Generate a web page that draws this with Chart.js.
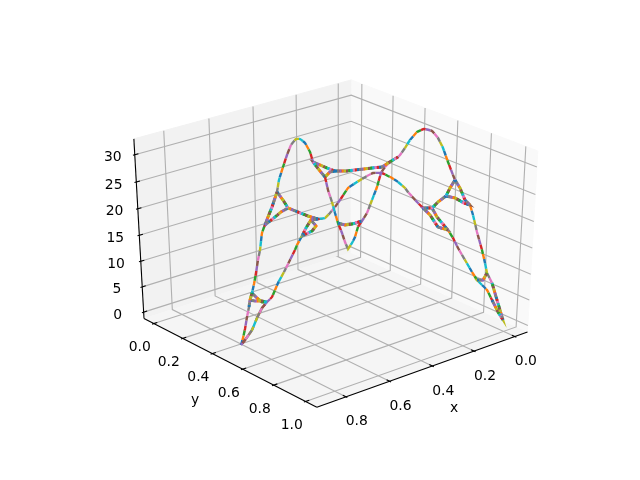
<!DOCTYPE html>
<html>
<head>
<meta charset="utf-8">
<style>
html, body { margin: 0; padding: 0; background: #fff; }
canvas { display: block; }
</style>
<script src="https://cdn.jsdelivr.net/npm/chart.js@4/dist/chart.umd.min.js"></script>
</head>
<body>
<canvas id="plot" width="640" height="480"></canvas>
<script>
const xTicks = [0.0, 0.2, 0.4, 0.6, 0.8];
const yTicks = [0.0, 0.2, 0.4, 0.6, 0.8, 1.0];
const zTicks = [0, 5, 10, 15, 20, 25, 30];
const xLabels = ["0.0", "0.2", "0.4", "0.6", "0.8"];
const yLabels = ["0.0", "0.2", "0.4", "0.6", "0.8", "1.0"];
const zLabels = ["0", "5", "10", "15", "20", "25", "30"];
const xLim = [-0.043, 0.91];
const yLim = [-0.046, 1.046];
const zLim = [-0.6, 32.2];
const lineColors = ["#1f77b4", "#ff7f0e", "#2ca02c", "#d62728", "#9467bd", "#8c564b", "#e377c2", "#7f7f7f", "#bcbd22", "#17becf"];

// pieces of the curve as they read on the view plane of the 3d axes
const tipLeftUp = [[241,345],[243,338],[245,329],[247,317],[249,307],[250,300],[252,293]];
const tipLeftCross = [[252,293],[257,298],[262,302],[267,302]];
const tipLeftInner = [[250,300],[255,301],[262,301],[267,302]];
const tipLeftBack = [[267,302],[262,308],[257,318],[252,330],[245,340],[241,345]];
const leftRise = [[252,293],[254,284],[256,273],[258,260],[260,250],[262,233],[265,225]];
const leftTriA = [[265,225],[268,217],[272,207],[275,198],[277,192]];
const leftTriB = [[277,192],[283,200],[288,208]];
const leftTriC = [[288,208],[281,212],[275,217],[270,221],[265,225]];
const peakLeft = [[277,192],[279,180],[283,167],[287,155],[291,145],[296,139],[300,139],[305,143],[310,152],[313,162]];
const topTriA = [[313,162],[320,165],[327,168],[335,171]];
const topTriB = [[335,171],[330,172],[325,177]];
const topTriC = [[325,177],[320,171],[313,162]];
const downToDip = [[325,177],[328,190],[332,202],[335,213],[338,223]];
const dipBar = [[338,223],[345,225],[352,224],[362,221]];
const dipLeft = [[338,223],[342,233],[345,242],[348,249]];
const dipRight = [[348,249],[352,243],[355,237],[358,227],[362,221]];
const riseToKnot = [[362,221],[367,213],[372,200],[377,187],[381,173],[385,167],[390,162],[398,157]];
const bridge = [[335,171],[347,171],[355,170],[364,169],[372,168],[382,167],[388,163],[398,157]];
const peakRight = [[398,157],[400,155],[405,148],[410,140],[417,132],[424,129],[432,131],[438,138],[443,148],[448,162],[453,175],[455,180]];
const rightTriA = [[455,180],[450,188],[446,196]];
const rightTriB = [[446,196],[455,198],[464,203],[470,205]];
const rightTriC = [[455,180],[460,188],[465,200],[470,205]];
const knee = [[446,196],[438,202],[432,208],[423,208]];
const kneeTriA = [[432,208],[437,217],[442,223],[448,230]];
const kneeTriB = [[423,208],[430,215],[438,227],[448,230]];
const stemRight = [[448,230],[453,238],[458,248],[465,260],[472,272],[477,280]];
const tipRightA = [[477,280],[482,285],[487,290],[492,300],[498,312],[503,320]];
const tipRightCross = [[477,280],[483,280],[487,273]];
const tipRightB = [[503,320],[497,300],[492,283],[487,273]];
const rightDrop = [[487,273],[485,263],[482,250],[477,232],[473,215],[470,205]];
const arc = [[423,208],[417,202],[408,192],[405,188],[398,182],[392,178],[388,176],[382,173],[373,173],[367,176],[357,182],[348,188],[342,197],[335,207],[330,213],[325,218],[318,219]];
const midBar = [[318,219],[308,216],[298,212],[288,208]];
const lowTriA = [[318,219],[311,220],[306,228],[302,236]];
const lowTriB = [[311,220],[316,226],[312,231],[302,236]];
const stemLeft = [[302,236],[297,245],[295,250],[290,260],[284,272],[278,283],[272,297],[267,302]];

function back(piece) { return piece.slice().reverse(); }

// the way the line runs over the pieces
const route = [
    tipLeftUp, tipLeftCross, tipLeftBack, back(tipLeftBack), back(tipLeftInner), leftRise,
    leftTriA, leftTriB, leftTriC, leftTriA,
    peakLeft, topTriA, topTriB, topTriC, topTriA, topTriB,
    downToDip, dipLeft, dipRight, back(dipBar), dipBar, riseToKnot, back(bridge), bridge,
    peakRight, rightTriA, rightTriB, back(rightTriC), rightTriA, knee, kneeTriB, back(kneeTriA), [[423,208]], kneeTriB,
    stemRight, tipRightCross, back(tipRightCross), tipRightA, tipRightB, rightDrop,
    back(rightTriB), knee, arc, midBar, back(midBar),
    lowTriA, back(lowTriB), lowTriA, stemLeft
];

// pieces the reference walks many times, they come out as a thick speckled band
const denseParts = [
    tipLeftCross, tipLeftInner, leftTriA, leftTriB, leftTriC, midBar, lowTriA, lowTriB,
    topTriA, topTriB, topTriC, bridge, dipBar,
    rightTriA, rightTriB, rightTriC, knee, kneeTriA, kneeTriB, tipRightCross,
    tipLeftUp.slice(-3), tipRightA.slice(-3), tipRightB.slice(0, 3)
];

const dist = 10, elev = 30 * Math.PI / 180, azim = 50 * Math.PI / 180;

function sub(a, b) { return [a[0] - b[0], a[1] - b[1], a[2] - b[2]]; }
function dot(a, b) { return a[0] * b[0] + a[1] * b[1] + a[2] * b[2]; }

const w = [Math.cos(elev) * Math.cos(azim), Math.cos(elev) * Math.sin(azim), Math.sin(elev)];
const u = [-Math.sin(azim), Math.cos(azim), 0];
const v = [w[1] * u[2] - w[2] * u[1], w[2] * u[0] - w[0] * u[2], w[0] * u[1] - w[1] * u[0]];
const eye = [0.5 + dist * w[0], 0.5 + dist * w[1], 0.5 + dist * w[2]];

// same camera as mplot3d, gives a point on the 640x480 view plane
function project(x, y, z) {
    const p = [
        (x - xLim[0]) / (xLim[1] - xLim[0]),
        (y - yLim[0]) / (yLim[1] - yLim[0]),
        (z - zLim[0]) / (zLim[1] - zLim[0])
    ];
    const d = sub(p, eye);
    const depth = -dot(w, d);
    const vx = dot(u, d) / depth;
    const vy = dot(v, d) / depth;
    return {
        x: 80 + (vx + 0.095) / 0.185 * 496,
        y: 480 - (52.8 + (vy + 0.095) / 0.185 * 369.6)
    };
}

const xPad = (xLim[1] - xLim[0]) / 48, yPad = (yLim[1] - yLim[0]) / 48, zPad = (zLim[1] - zLim[0]) / 48;
const x0 = xLim[0] - xPad, x1 = xLim[1] + xPad;
const y0 = yLim[0] - yPad, y1 = yLim[1] + yPad;
const z0 = zLim[0] - zPad, z1 = zLim[1] + zPad;
const xDelta = (xLim[1] - xLim[0]) / 12, yDelta = (yLim[1] - yLim[0]) / 12;

let datasets = [];

function addPane(corners, color) {
    datasets.push({
        data: corners.map(c => project(c[0], c[1], c[2])),
        showLine: true, fill: 'shape', backgroundColor: color,
        borderColor: color, borderWidth: 1, pointRadius: 0, tension: 0
    });
}

function addLine(points, color, width) {
    datasets.push({
        data: points.map(c => project(c[0], c[1], c[2])),
        showLine: true, fill: false, borderColor: color,
        borderWidth: width, pointRadius: 0, tension: 0
    });
}

addPane([[x1, y0, z0], [x0, y0, z0], [x0, y0, z1], [x1, y0, z1]], "#f2f2f2");
addPane([[x0, y0, z0], [x0, y1, z0], [x0, y1, z1], [x0, y0, z1]], "#f9f9f9");
addPane([[x0, y0, z0], [x1, y0, z0], [x1, y1, z0], [x0, y1, z0]], "#f5f5f5");

const gridColor = "#b0b0b0";
xTicks.forEach(t => addLine([[t, y1, z0], [t, y0, z0], [t, y0, z1]], gridColor, 1.1));
yTicks.forEach(t => addLine([[x1, t, z0], [x0, t, z0], [x0, t, z1]], gridColor, 1.1));
zTicks.forEach(t => addLine([[x1, y0, t], [x0, y0, t], [x0, y1, t]], gridColor, 1.1));

addLine([[x1, y0, z0], [x1, y1, z0]], "#000", 1.1);
addLine([[x1, y1, z0], [x0, y1, z0]], "#000", 1.1);
addLine([[x1, y0, z0], [x1, y0, z1]], "#000", 1.1);

xTicks.forEach(t => addLine([[t, y1 + 0.1 * yDelta, z0], [t, y1 - 0.2 * yDelta, z0]], "#000", 1.1));
yTicks.forEach(t => addLine([[x1 + 0.1 * xDelta, t, z0], [x1 - 0.2 * xDelta, t, z0]], "#000", 1.1));
zTicks.forEach(t => addLine([[x1 + 0.1 * xDelta, y0, t], [x1 - 0.2 * xDelta, y0, t]], "#000", 1.1));

// one path per colour, dashes shifted so the colours follow each other along the curve
const curvePoints = route.flat().map(p => ({ x: p[0], y: p[1] }));
const dashLen = 5;
lineColors.forEach((color, i) => {
    datasets.push({
        data: curvePoints,
        showLine: true, fill: false, borderColor: color, borderWidth: 2.4,
        pointRadius: 0, tension: 0.1,
        borderDash: [dashLen, dashLen * 9],
        borderDashOffset: -i * dashLen
    });
});

// NaN breaks the line between the dense pieces
const densePoints = [];
denseParts.forEach(piece => {
    piece.forEach(p => densePoints.push({ x: p[0], y: p[1] }));
    densePoints.push({ x: NaN, y: NaN });
});
const densePhase = [0, 3, 6, 9, 2, 5, 8, 1, 4, 7];
lineColors.forEach((color, i) => {
    datasets.push({
        data: densePoints,
        showLine: true, fill: false, borderColor: color, borderWidth: 3,
        pointRadius: 0, tension: 0,
        borderDash: [2.2, 19.8],
        borderDashOffset: -densePhase[i] * 2.2
    });
});

// chart.js paints the first dataset last, so the panes have to go at the end
datasets.reverse();

const axisText = {
    id: 'axisText',
    afterDraw(chart) {
        const ctx = chart.ctx;
        const sx = chart.scales.x, sy = chart.scales.y;
        function put(text, px, py) {
            ctx.fillText(text, sx.getPixelForValue(px), sy.getPixelForValue(py));
        }
        ctx.save();
        ctx.font = '13.9px "DejaVu Sans"';
        ctx.fillStyle = "#000";
        ctx.textAlign = "center";
        ctx.textBaseline = "middle";
        xTicks.forEach((t, i) => {
            const p = project(t, y1, z0);
            put(xLabels[i], p.x + 11, p.y + 25);
        });
        yTicks.forEach((t, i) => {
            const p = project(x1, t, z0);
            put(yLabels[i], p.x - 14, p.y + 24);
        });
        zTicks.forEach((t, i) => {
            const p = project(x1, y0, t);
            put(zLabels[i], p.x - 26 + t * 4 / 30, p.y + 3);
        });
        put("x", 454, 408);
        put("y", 195, 400);
        ctx.restore();
    }
};

new Chart(document.getElementById('plot'), {
    type: 'scatter',
    data: { datasets: datasets },
    options: {
        responsive: false,
        animation: false,
        layout: { padding: 0 },
        scales: {
            x: { type: 'linear', min: 0, max: 640, display: false },
            y: { type: 'linear', min: 0, max: 480, reverse: true, display: false }
        },
        plugins: { legend: { display: false }, tooltip: { enabled: false } }
    },
    plugins: [axisText]
});
</script>
</body>
</html>
